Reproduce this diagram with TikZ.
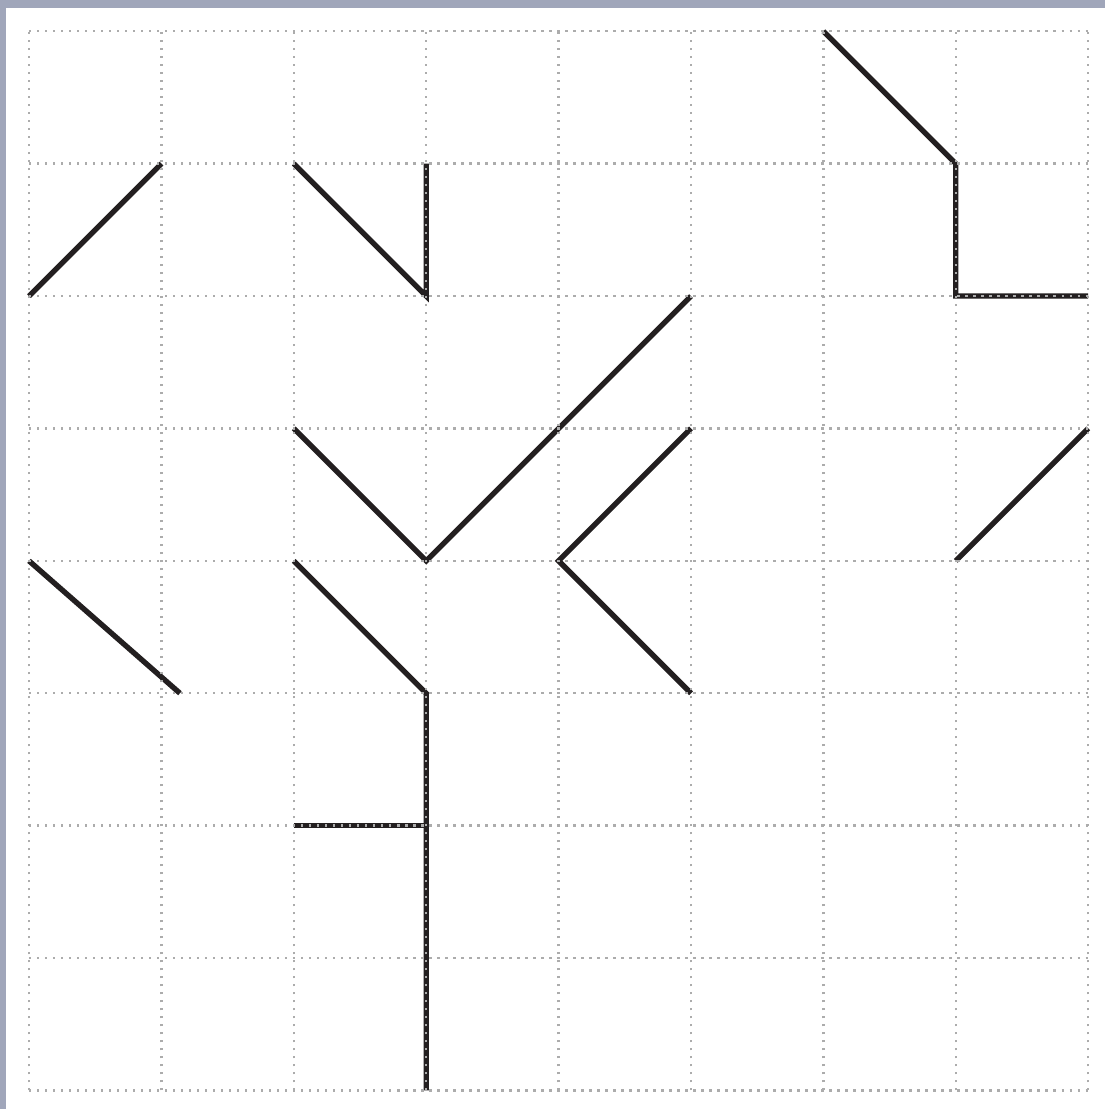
\documentclass[tikz,border=0pt]{standalone}
\usepackage{tikz}
\definecolor{frameblue}{RGB}{160,166,186}
\definecolor{inkblack}{RGB}{35,31,32}
\tikzset{
  gridline/.style={gray!65,line width=0.5pt,dash pattern=on 0.5pt off 1.22pt},
  stroke/.style={inkblack,line width=1.15pt,line join=miter}
}

\begin{document}
\begin{tikzpicture}
\fill[frameblue] (-0.219,-0.14) rectangle (8.128,8.236);
\fill[white] (-0.174,-0.14) rectangle (8.128,8.176);
\useasboundingbox (-0.219,-0.14) rectangle (8.128,8.236);
% strokes
\draw[stroke] (0,6) -- (1,7);
\draw[stroke] (2,7) -- (3,6) -- (3,7);
\draw[stroke] (6,8) -- (7,7) -- (7,6) -- (8,6);
\draw[stroke] (2,5) -- (3,4) -- (5,6);
\draw[stroke] (5,5) -- (4,4) -- (5,3);
\draw[stroke] (7,4) -- (8,5);
\draw[stroke] (0,4) -- (1.14,3);
\draw[stroke] (2,4) -- (3,3) -- (3,0);
\draw[stroke] (2,2) -- (3,2);
% dotted grid on top
\foreach \i in {0,...,8} {
  \draw[gridline] (\i,0) -- (\i,8);
  \draw[gridline] (0,\i) -- (8,\i);
}
\end{tikzpicture}
\end{document}
